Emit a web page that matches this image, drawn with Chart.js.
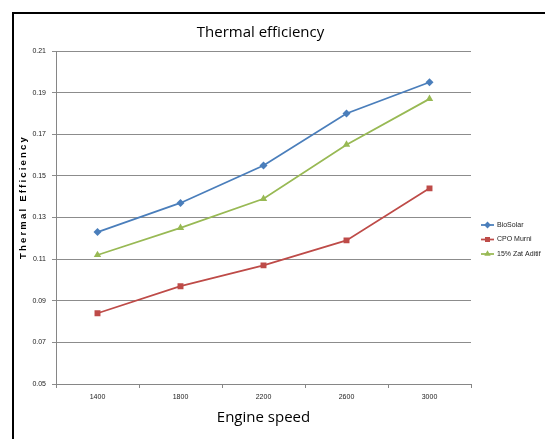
<!DOCTYPE html>
<html>
<head>
<meta charset="utf-8">
<script src="https://cdn.jsdelivr.net/npm/chart.js@4.4.0/dist/chart.umd.min.js"></script>
<style>
  html, body { margin: 0; padding: 0; background: #fff; overflow: hidden; }
  #wrap { position: relative; width: 545px; height: 439px; }
  #frame { position: absolute; left: 12px; top: 12px; width: 600px; height: 500px; border: 2px solid #000; }
  canvas { position: absolute; left: 0; top: 0; }
</style>
</head>
<body>
<div id="wrap">
  <div id="frame"></div>
  <canvas id="effChart" width="545" height="439"></canvas>
</div>
<script>
// Engine speed categories
const speeds = ['1400', '1800', '2200', '2600', '3000'];

// Thermal efficiency per fuel
const bioSolar = [0.123, 0.137, 0.155, 0.180, 0.195];
const cpoMurni = [0.084, 0.097, 0.107, 0.119, 0.144];
const zatAditif = [0.112, 0.125, 0.139, 0.165, 0.187];

const seriesNames = ['BioSolar', 'CPO Murni', '15% Zat Aditif'];

// y axis ticks
const yMin = 0.05;
const yMax = 0.21;
const yStep = 0.02;

const chartTitle = 'Thermal efficiency';
const xTitle = 'Engine speed';
const yTitle = 'Thermal Efficiency';

const colors = ['#4a7ebb', '#be4b48', '#98b954'];
const markers = ['rectRot', 'rect', 'triangle'];
const markerSize = [4, 4.2, 4.3];

// chart title centred over plot area
const titlePlugin = {
	id: 'titleText',
	afterDraw(chart) {
		const ctx = chart.ctx;
		const area = chart.chartArea;
		ctx.save();
		ctx.fillStyle = '#000';
		ctx.font = '15px "Open Sans"';
		ctx.textAlign = 'center';
		ctx.textBaseline = 'middle';
		ctx.fillText(chartTitle, (area.left + area.right) / 2 - 3, 33);

		// rotated y title, spaced letters
		ctx.translate(23, 197);
		ctx.rotate(-Math.PI / 2);
		ctx.font = 'bold 9.5px "Liberation Sans"';
		ctx.letterSpacing = '2.2px';
		ctx.fillText(yTitle, 0, 0);
		ctx.restore();
	}
};

// legend at the right, line + marker like the spreadsheet
const legendPlugin = {
	id: 'sideLegend',
	afterDraw(chart) {
		const ctx = chart.ctx;
		ctx.save();
		chart.data.datasets.forEach((ds, i) => {
			const y = 225 + i * 14.5;
			ctx.strokeStyle = ds.borderColor;
			ctx.lineWidth = 1.75;
			ctx.beginPath();
			ctx.moveTo(481, y);
			ctx.lineTo(494, y);
			ctx.stroke();
			ctx.fillStyle = ds.borderColor;
			Chart.helpers.drawPoint(ctx, {
				pointStyle: ds.pointStyle,
				radius: ds.pointRadius * 0.85,
				rotation: 0,
				borderWidth: 0
			}, 487.5, y);
			ctx.fillStyle = '#222';
			ctx.font = '7px "Liberation Sans"';
			ctx.textAlign = 'left';
			ctx.textBaseline = 'middle';
			ctx.fillText(ds.label, 497, y);
		});
		ctx.restore();
	}
};

const seriesData = [bioSolar, cpoMurni, zatAditif];

const effCtx = document.getElementById('effChart').getContext('2d');
new Chart(effCtx, {
	type: 'line',
	data: {
		labels: speeds,
		datasets: seriesData.map((d, i) => ({
			label: seriesNames[i],
			data: d,
			borderColor: colors[i],
			backgroundColor: colors[i],
			borderWidth: 1.75,
			pointStyle: markers[i],
			pointRadius: markerSize[i],
			pointBorderWidth: 0,
			tension: 0,
			fill: false
		}))
	},
	options: {
		responsive: false,
		animation: false,
		layout: {
			padding: { top: 51, right: 74, left: 0, bottom: 0 }
		},
		plugins: {
			legend: { display: false },
			title: { display: false },
			tooltip: { enabled: false }
		},
		scales: {
			x: {
				offset: true,
				afterFit: function(scale) { scale.height = 55; },
				grid: {
					offset: true,
					drawOnChartArea: false,
					drawTicks: true,
					tickLength: 4,
					color: '#868686'
				},
				border: { display: true, color: '#868686', width: 1 },
				ticks: {
					color: '#222',
					font: { size: 7, family: '"Liberation Sans"' },
					padding: 5,
					maxRotation: 0
				},
				title: {
					display: true,
					text: xTitle,
					color: '#000',
					font: { size: 15, family: '"Open Sans"' },
					padding: { top: 0, bottom: 12 }
				}
			},
			y: {
				min: yMin,
				max: yMax,
				afterFit: function(scale) { scale.width = 56; },
				grid: {
					color: '#8c8c8c',
					lineWidth: 1,
					drawTicks: true,
					tickLength: 4
				},
				border: { display: true, color: '#868686', width: 1 },
				ticks: {
					stepSize: yStep,
					color: '#222',
					font: { size: 7, family: '"Liberation Sans"' },
					padding: 6,
					callback: function(value) {
						return value.toFixed(2);
					}
				}
			}
		}
	},
	plugins: [titlePlugin, legendPlugin]
});
</script>
</body>
</html>
